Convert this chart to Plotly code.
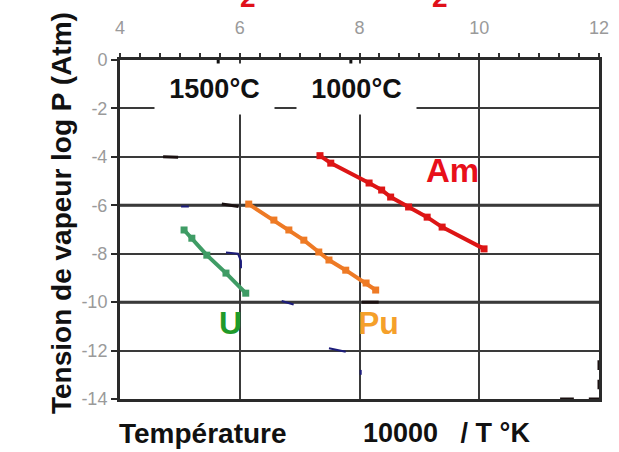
import plotly.graph_objects as go

# ---- data ----
am_x = [7.34, 7.52, 8.16, 8.37, 8.52, 8.82, 9.13, 9.38, 10.08]
am_y = [-3.95, -4.26, -5.08, -5.37, -5.66, -6.07, -6.49, -6.9, -7.8]
pu_x = [6.15, 6.57, 6.82, 7.07, 7.32, 7.49, 7.77, 8.11, 8.27]
pu_y = [-5.95, -6.61, -7.02, -7.44, -7.93, -8.26, -8.68, -9.21, -9.5]
u_x = [5.07, 5.2, 5.45, 5.77, 6.10]
u_y = [-7.02, -7.36, -8.06, -8.8, -9.63]

x_ticks = [4, 6, 8, 10, 12]
y_ticks = [0, -2, -4, -6, -8, -10, -12, -14]
temp_labels = ["1500°C", "1000°C"]
temp_celsius = [1500, 1000]
temp_x = [10000 / (c + 273) for c in temp_celsius]

# faint remnants of other curves seen in the picture
navy_x = [5.02, 5.15, None, 5.77, 5.97, 6.02, 6.02, None, 6.7, 6.9, None, 7.49, 7.77, None, 8.02, 8.02]
navy_y = [-6.05, -6.05, None, -7.95, -8.0, -8.3, -8.6, None, -9.95, -10.1, None, -11.9, -12.05, None, -12.8, -13.0]
dark_x = [4.72, 4.97, None, 5.7, 5.98, None, 8.04, 8.32, None, 12, 12, None, 12, 12, None, 11.35, 11.58, None, 11.83, 12]
dark_y = [-4.0, -4.02, None, -5.95, -6.05, None, -10.0, -10.0, None, -12.4, -12.8, None, -13.2, -13.6, None, -14, -14, None, -14, -14]

thick_grid_y = [-6, -10]

FONT = "Liberation Sans, Arial"
W, H = 619, 452
L, R, T, B = 120, 20, 60, 53
PW, PH = W - L - R, H - T - B


def px_x(p):
    return (p - L) / PW


def px_y(p):
    return (H - B - p) / PH


fig = go.Figure()

for gy in thick_grid_y:
    fig.add_shape(type="line", x0=4, x1=12, y0=gy, y1=gy, xref="x", yref="y",
                  line=dict(color="#2a2a2a", width=3), layer="below")

fig.add_trace(go.Scatter(x=navy_x, y=navy_y, mode="lines", line=dict(color="#1c1c7a", width=2),
                         hoverinfo="skip", cliponaxis=False))
fig.add_trace(go.Scatter(x=dark_x, y=dark_y, mode="lines", line=dict(color="#1a1010", width=3),
                         hoverinfo="skip", cliponaxis=False))

fig.add_trace(go.Scatter(x=am_x, y=am_y, mode="lines+markers",
                         line=dict(color="#dd1515", width=4),
                         marker=dict(symbol="square", size=7, color="#dd1515")))
fig.add_trace(go.Scatter(x=pu_x, y=pu_y, mode="lines+markers",
                         line=dict(color="#ee7a25", width=4),
                         marker=dict(symbol="square", size=7, color="#ee7a25")))
fig.add_trace(go.Scatter(x=u_x, y=u_y, mode="lines+markers",
                         line=dict(color="#3f9c65", width=4),
                         marker=dict(symbol="square", size=7, color="#3f9c65")))

# temperature tick marks on top
for tx in temp_x:
    fig.add_trace(go.Scatter(x=[tx, tx], y=[0.3, -0.3], mode="lines",
                             line=dict(color="#111", width=3), cliponaxis=False, hoverinfo="skip"))

# white label boxes
fig.add_annotation(x=temp_x[0] - 0.07, y=-1.2, text="<b>" + temp_labels[0] + "</b>", showarrow=False,
                   font=dict(family=FONT, size=27, color="#111"),
                   bgcolor="white", width=117, height=48, xanchor="center", yanchor="middle")
fig.add_annotation(x=temp_x[1] + 0.1, y=-1.2, text="<b>" + temp_labels[1] + "</b>", showarrow=False,
                   font=dict(family=FONT, size=27, color="#111"),
                   bgcolor="white", width=117, height=48, xanchor="center", yanchor="middle")

# series labels
fig.add_annotation(x=9.56, y=-4.55, text="<b>Am</b>", showarrow=False, xanchor="center", yanchor="middle",
                   font=dict(family=FONT, size=33, color="#e8101a"))
fig.add_annotation(x=8.31, y=-10.87, text="<b>Pu</b>", showarrow=False, xanchor="center", yanchor="middle",
                   font=dict(family=FONT, size=32, color="#f5a02a"))
fig.add_annotation(x=5.84, y=-10.87, text="<b>U</b>", showarrow=False, xanchor="center", yanchor="middle",
                   font=dict(family=FONT, size=32, color="#1f9a2a"))

# axis titles
fig.add_annotation(xref="paper", yref="paper", x=px_x(203), y=px_y(433), xanchor="center", yanchor="middle",
                   text="<b>Température</b>", showarrow=False,
                   font=dict(family=FONT, size=28, color="#111"))
fig.add_annotation(xref="paper", yref="paper", x=px_x(446), y=px_y(433), xanchor="center", yanchor="middle",
                   text="<b>10000   / T °K</b>", showarrow=False,
                   font=dict(family=FONT, size=27, color="#111"))
fig.add_annotation(xref="paper", yref="paper", x=px_x(61), y=px_y(213), xanchor="center", yanchor="middle",
                   text="<b>Tension de vapeur log P (Atm)</b>", showarrow=False, textangle=-90,
                   font=dict(family=FONT, size=28, color="#111"))

# red partial "2" at the top edge
for px in [248, 440]:
    fig.add_annotation(xref="paper", yref="paper", x=px_x(px), y=px_y(15),
                       text="<b>2</b>", showarrow=False, xanchor="center", yanchor="bottom",
                       font=dict(family=FONT, size=28, color="#e0101a"))

fig.update_layout(
    width=W, height=H,
    margin=dict(l=L, r=R, t=T, b=B),
    paper_bgcolor="white", plot_bgcolor="white",
    showlegend=False,
    xaxis=dict(range=[4, 12], side="top", tickvals=x_ticks, ticktext=[str(v) for v in x_ticks],
               showgrid=True, gridcolor="#3a3a3a", gridwidth=2, automargin=False,
               showline=True, linecolor="#2a2a2a", linewidth=3, mirror=True,
               ticks="", ticklabelstandoff=16,
               minor=dict(dtick=1/3, tick0=4, ticks="outside", ticklen=4, tickcolor="#333", tickwidth=2, showgrid=False),
               tickfont=dict(family=FONT, size=18, color="#9a9a9a"),
               zeroline=False),
    yaxis=dict(range=[-14, 0], tickvals=y_ticks, ticktext=[str(v) for v in y_ticks],
               showgrid=True, gridcolor="#3a3a3a", gridwidth=2, automargin=False,
               showline=True, linecolor="#2a2a2a", linewidth=3, mirror=True,
               ticks="outside", ticklen=6, tickcolor="#2a2a2a", tickwidth=2,
               tickfont=dict(family=FONT, size=18, color="#9a9a9a"),
               zeroline=False),
)

fig.write_html("out.html", config={"displayModeBar": False},
               post_script="document.body.style.margin='0';")
